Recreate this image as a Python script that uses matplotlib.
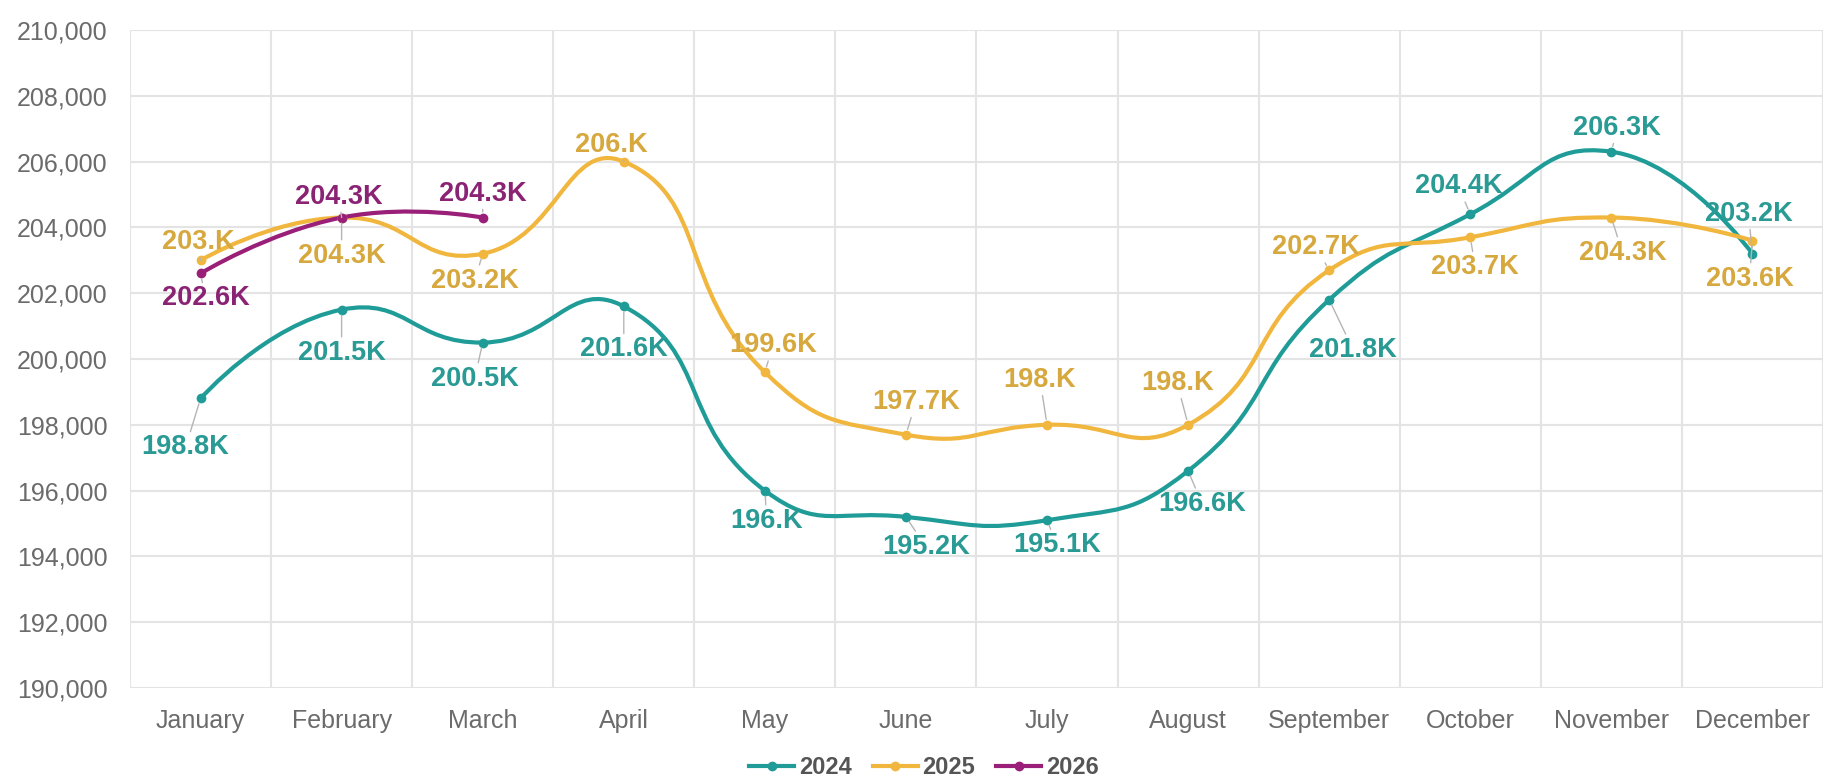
import numpy as np
import matplotlib
matplotlib.use('Agg')
import matplotlib.pyplot as plt
from matplotlib.path import Path
from matplotlib.patches import PathPatch
from matplotlib.lines import Line2D
from matplotlib.ticker import StrMethodFormatter

months = ['January', 'February', 'March', 'April', 'May', 'June', 'July',
          'August', 'September', 'October', 'November', 'December']
years = ['2024', '2025', '2026']

vals_2024 = [198800, 201500, 200500, 201600, 196000, 195200, 195100, 196600, 201800, 204400, 206300, 203200]
vals_2025 = [203000, 204300, 203200, 206000, 199600, 197700, 198000, 198000, 202700, 203700, 204300, 203600]
vals_2026 = [202600, 204300, 204300]

# label offsets in pixels (dx right, dy down)
offs_2024 = [(-15, 49), (0, 43), (-8, 36), (0, 43), (2, 30), (20, 30), (10, 25), (14, 33),
             (24, 50), (-12, -28), (6, -24), (-4, -40)]
offs_2025 = [(-2, -18), (0, 38), (-8, 27), (-12, -17), (8, -27), (10, -33), (-7, -45), (-11, -42),
             (-13, -23), (5, 30), (11, 35), (-3, 38)]
offs_2026 = [(5, 25), (-3, -21), (0, -24)]

line_colors = {'2024': '#1f9c97', '2025': '#f1b63e', '2026': '#9a1f78'}
text_colors = {'2024': '#2a9a95', '2025': '#d6a83e', '2026': '#8b2374'}

plt.rcParams['font.family'] = ['Liberation Sans', 'DejaVu Sans']

W, H = 1848, 779
fig = plt.figure(figsize=(W / 100, H / 100), dpi=100)
fig.patch.set_facecolor('white')
ax = fig.add_axes([130 / W, 1 - 688 / H, (1823 - 130) / W, (688 - 30) / H])
ax.set_xlim(-0.5, 11.5)
ax.set_ylim(190000, 210000)

ax.set_yticks(np.arange(190000, 210001, 2000))
ax.yaxis.set_major_formatter(StrMethodFormatter('{x:,.0f}'))
ax.set_xticks(range(len(months)))
ax.set_xticklabels(months)
ax.set_xticks(np.arange(-0.5, 12, 1), minor=True)
ax.tick_params(axis='both', which='both', length=0, labelsize=18, colors='#6b6b6b')
ax.tick_params(axis='y', pad=16)
ax.tick_params(axis='x', pad=15)
ax.grid(axis='y', which='major', color='#e4e4e4', lw=1.5)
ax.grid(axis='x', which='minor', color='#e4e4e4', lw=1.5)
ax.set_axisbelow(True)
for s in ax.spines.values():
    s.set_visible(False)


def smooth_path(xs, ys, smooth=0.5):
    pts = ax.transData.transform(np.column_stack([xs, ys]))
    n = len(pts)
    cps = [pts[0]]
    for i in range(1, n - 1):
        prev, cur, nxt = pts[i - 1], pts[i], pts[i + 1]
        v = (nxt - prev) * smooth
        d0 = np.hypot(*(cur - prev))
        d1 = np.hypot(*(nxt - cur))
        d0, d1 = d0 / (d0 + d1), d1 / (d0 + d1)
        cps.append(cur - v * d0)
        cps.append(cur + v * d1)
    cps.append(pts[-1])
    verts = [pts[0]]
    codes = [Path.MOVETO]
    for i in range(n - 1):
        verts += [cps[2 * i], cps[2 * i + 1], pts[i + 1]]
        codes += [Path.CURVE4] * 3
    return Path(ax.transData.inverted().transform(np.array(verts)), codes)


def fmt(v):
    return f'{v / 1000:.1f}'.rstrip('0') + 'K'


series = [('2024', vals_2024, offs_2024), ('2025', vals_2025, offs_2025), ('2026', vals_2026, offs_2026)]
for yr, vals, offs in series:
    xs = np.arange(len(vals))
    c = line_colors[yr]
    ax.add_patch(PathPatch(smooth_path(xs, vals), fill=False, edgecolor=c, lw=3,
                           capstyle='round', joinstyle='round', zorder=3))
    ax.plot(xs, vals, 'o', color=c, ms=6, zorder=4)
    for x, v, (dx, dy) in zip(xs, vals, offs):
        ax.annotate(fmt(v), (x, v), xytext=(dx, -dy), textcoords='offset pixels',
                    ha='center', va='center', fontsize=19.5, fontweight='bold',
                    color=text_colors[yr], zorder=5,
                    arrowprops=dict(arrowstyle='-', color='#b5b5b5', lw=1,
                                    shrinkA=0, shrinkB=4))

handles = [Line2D([0], [0], color=line_colors[y], lw=3, marker='o', ms=6) for y in years]
leg = fig.legend(handles, years, loc='center', bbox_to_anchor=(0.5, 1 - 768 / H), ncol=3,
                 frameon=False, handlelength=1.9, handletextpad=0.2, columnspacing=0.9,
                 prop={'size': 17, 'weight': 'bold'})
for t in leg.get_texts():
    t.set_color('#555555')

fig.savefig('out.png', dpi=100, facecolor='white')
